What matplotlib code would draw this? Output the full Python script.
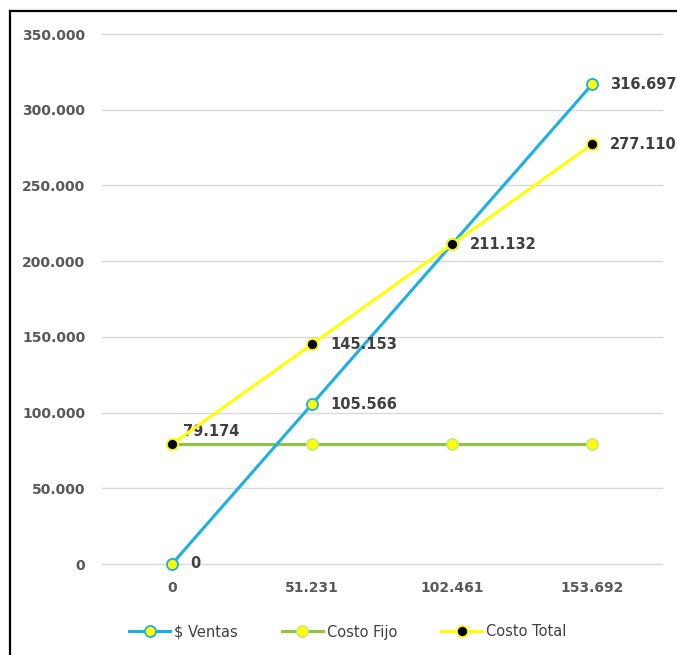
import matplotlib
matplotlib.use("Agg")
import matplotlib.pyplot as plt
from matplotlib.lines import Line2D

categories = ["0", "51.231", "102.461", "153.692"]
ventas = [0, 105566, 211132, 316697]
costo_fijo = [79174, 79174, 79174, 79174]
costo_total = [79174, 145153, 211132, 277110]
yticks = [0, 50000, 100000, 150000, 200000, 250000, 300000, 350000]
ytick_labels = ["0", "50.000", "100.000", "150.000", "200.000", "250.000", "300.000", "350.000"]

def fmt(v):
    return f"{v:,.0f}".replace(",", ".")

plt.rcParams['font.family'] = ['DejaVu Sans']
fig = plt.figure(figsize=(6.77, 6.55), dpi=100)
ax = fig.add_axes([102/677, 91/655, 560/677, 530/655])

x = list(range(len(categories)))
c_v, c_f, c_t = "#1CB0E6", "#8DC63F", "#FFFF00"
ax.plot(x, ventas, color=c_v, lw=2.2, marker="o", ms=8, mfc="#FFFF00", mec=c_v, mew=1.3, zorder=3, label="$ Ventas", clip_on=False)
ax.plot(x, costo_fijo, color=c_f, lw=2.2, marker="o", ms=8, mfc="#FFFF00", mec="#C9E87A", mew=1.3, zorder=2, label="Costo Fijo")
ax.plot(x, costo_total, color=c_t, lw=2.2, marker="o", ms=8, mfc="black", mec="#FFFF00", mew=1.3, zorder=4, label="Costo Total")

ax.set_xlim(-0.5, 3.5)
ax.set_ylim(0, 350000)
ax.set_yticks(yticks)
ax.set_yticklabels(ytick_labels)
ax.set_xticks(x)
ax.set_xticklabels(categories)
for s in ax.spines.values():
    s.set_visible(False)
ax.grid(axis="y", color="#D9D9D9", lw=1)
for gl in ax.get_ygridlines():
    gl.set_clip_on(False)
ax.set_axisbelow(True)
ax.tick_params(length=0, labelsize=10, labelcolor="#595959")
ax.tick_params(axis="y", pad=12)
ax.tick_params(axis="x", pad=12)
for t in ax.get_xticklabels() + ax.get_yticklabels():
    t.set_fontweight("bold")

lab_kw = dict(fontsize=10.5, fontweight="bold", color="#404040", va="center", ha="left", textcoords="offset points")
for i in [0, 1, 3]:
    ax.annotate(fmt(ventas[i]), (x[i], ventas[i]), xytext=(13, 0), **lab_kw)
for i in [1, 2, 3]:
    ax.annotate(fmt(costo_total[i]), (x[i], costo_total[i]), xytext=(13, 0), **lab_kw)
ax.annotate(fmt(costo_total[0]), (x[0], costo_total[0]), xytext=(8, 9), **lab_kw)

leg = fig.legend(loc="center", bbox_to_anchor=(348/677, 1 - 632/655), ncol=3, frameon=False,
                 fontsize=10.5, handlelength=2.8, columnspacing=3.0, handletextpad=0.3)
for t in leg.get_texts():
    t.set_color("#404040")

fig.add_artist(Line2D([10/677, 1], [1 - 11/655, 1 - 11/655], color="black", lw=1.6, transform=fig.transFigure))
fig.add_artist(Line2D([10/677, 10/677], [0, 1 - 11/655], color="black", lw=1.6, transform=fig.transFigure))

fig.savefig("out.png", dpi=100)
